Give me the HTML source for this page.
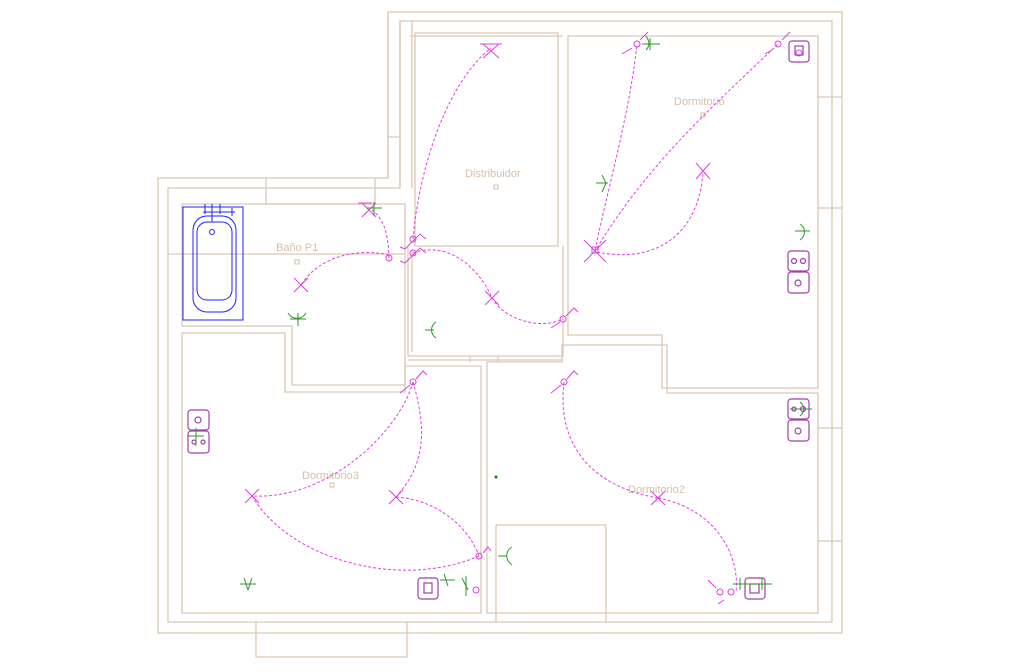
<!DOCTYPE html>
<html><head><meta charset="utf-8"><style>
html,body{margin:0;padding:0;background:#fff;width:1024px;height:672px;overflow:hidden}
svg{display:block}
.w{fill:none;stroke:#dcc8b4;stroke-width:1.3}
.m{fill:none;stroke:#e040e0;stroke-width:1}
.d{fill:none;stroke:#e040e0;stroke-width:1;stroke-dasharray:3,2}
.g{fill:none;stroke:#2a9a2a;stroke-width:1}
.p{fill:none;stroke:#a040a8;stroke-width:1.2}
.b{fill:none;stroke:#2020ff;stroke-width:1}
.t{font-family:"Liberation Sans",sans-serif;font-size:11px;fill:#d6bfa8}
</style></head><body>
<svg width="1024" height="672" viewBox="0 0 1024 672" xmlns="http://www.w3.org/2000/svg">
<!-- outer walls -->
<path class="w" d="M388 12 H842 V633 H158 V178 H388 Z"/>
<path class="w" d="M400 21 H832 V622 H168 V188 H400 Z"/>
<path class="w" d="M388 12 V178 M400 21 V188 M412 21 V188 M388 137 H400 M266 178 V188 M375 178 V204 M266 188 V204 H375"/>
<path class="w" d="M256 622 V657 H407 V622"/>
<path class="w" d="M818 97 H842 M818 208 H842 M818 428 H842 M818 541 H842"/>
<!-- Distribuidor -->
<path class="w" d="M415 33 H558 V246 H415 Z M410 36 H563"/>
<path class="w" d="M408 246 V356 H563 V246 M412 250 V352 M408 360 H563 M470 356 V362 M498 356 V362"/>
<!-- Dormitorio top right -->
<path class="w" d="M568 36 H818 V388 H662 V335 H568 Z"/>
<!-- Dormitorio2 -->
<path class="w" d="M487 362 H562 V345 H667 V393 H818 V613 H487 Z"/>
<path class="w" d="M496 525 H606 V622 M496 525 V622"/>
<!-- Bathroom -->
<path class="w" d="M182 204 H405 V385 H292 V326 H182 Z"/>
<path class="w" d="M168 254 H405"/>
<!-- Dormitorio3 -->
<path class="w" d="M182 333 H285 V392 H405 V366 H481 V613 H182 Z"/>
<!-- bathtub -->
<rect class="b" x="183" y="207" width="60" height="113"/>
<rect class="b" x="193" y="216" width="43" height="96" rx="14"/>
<rect class="b" x="197" y="222" width="35" height="78" rx="10"/>
<circle class="b" cx="212" cy="232" r="2.5"/>
<path class="b" d="M203 212 H235 M212 204 V222 M205 204 V214 M220 204 V214 M232 208 V216"/>
<!-- labels -->
<text class="t" x="465" y="177">Distribuidor</text>
<rect x="494" y="185" width="4" height="4" fill="none" stroke="#d6bfa8"/>
<text class="t" x="674" y="105">Dormitorio</text>
<rect x="701" y="113" width="4" height="4" fill="none" stroke="#d6bfa8"/>
<text class="t" x="276" y="251">Baño P1</text>
<rect x="295" y="260" width="4" height="4" fill="none" stroke="#d6bfa8"/>
<text class="t" x="302" y="479">Dormitorio3</text>
<rect x="330" y="483" width="4" height="4" fill="none" stroke="#d6bfa8"/>
<text class="t" x="628" y="493">Dormitorio2</text>
<rect x="656" y="497" width="4" height="4" fill="none" stroke="#d6bfa8"/>
<!-- magenta lights X -->
<g class="m">
<path d="M483 44 L499 58 M499 44 L483 58 M480 44 H502"/>
<path d="M362 203 L376 217 M376 203 L362 217 M358 203 H372"/>
<path d="M294 278 L308 292 M308 278 L294 292"/>
<path d="M485 291 L499 305 M499 291 L485 305"/>
<path d="M696 163 L710 179 M710 163 L696 179"/>
<path d="M584 240 L606 262 M606 240 L584 262"/><rect x="592" y="247" width="6" height="6"/>
<path d="M245 489 L259 503 M259 489 L245 503"/>
<path d="M389 490 L403 504 M403 490 L389 504"/>
<path d="M651 491 L665 505 M665 491 L651 505"/>
</g>
<!-- switches -->
<g class="m">
<circle cx="389" cy="258" r="3"/><circle cx="413" cy="239" r="3"/><circle cx="413" cy="253" r="3"/>
<path d="M405 249 L420 234 L426 239 M405 263 L420 248 L426 253 M400 247 L405 249 M400 261 L405 263"/>
<circle cx="637" cy="44" r="3"/><path d="M622 54 L632 48 M640 40 L648 32"/>
<circle cx="778" cy="44" r="3"/><path d="M765 54 L772 50 M782 40 L790 32"/>
<circle cx="563" cy="319" r="3"/><path d="M551 328 L560 322 M566 316 L574 308 L578 312"/>
<circle cx="413" cy="382" r="3"/><path d="M400 393 L410 385 M416 379 L423 371 L427 375"/>
<circle cx="564" cy="382" r="3"/><path d="M551 393 L561 385 M567 379 L574 371 L578 375"/>
<circle cx="479" cy="556" r="3"/><path d="M483 553 L488 547 L491 551"/>
<circle cx="476" cy="590" r="3"/>
<circle cx="720" cy="592" r="3"/><circle cx="731" cy="592" r="3"/><path d="M708 580 L716 588 M724 600 L718 604"/>
<circle cx="799" cy="53" r="3"/>
</g>
<!-- dashed wires -->
<g class="d">
<path d="M413 239 C420 160 450 80 491 48"/>
<path d="M389 258 C388 235 385 220 372 210"/>
<path d="M389 255 C360 248 320 255 301 285"/>
<path d="M413 253 C450 240 480 270 492 298 C505 320 540 330 563 319"/>
<path d="M595 250 C610 180 630 110 637 44"/>
<path d="M597 248 C650 160 720 100 778 44"/>
<path d="M597 252 C660 265 700 230 703 171"/>
<path d="M413 382 C400 430 330 500 252 496"/>
<path d="M413 382 C430 440 420 470 396 497"/>
<path d="M252 496 C290 560 400 590 479 556"/>
<path d="M396 497 C440 500 470 530 479 556"/>
<path d="M564 382 C555 460 610 490 658 498"/>
<path d="M658 498 C720 510 740 560 736 592"/>
</g>
<!-- sockets -->
<g class="p">
<rect x="789" y="41" width="20" height="21" rx="3"/><rect x="795" y="46" width="8" height="9"/>
<rect x="788" y="251" width="21" height="20" rx="3"/><circle cx="794" cy="261" r="2.5"/><circle cx="803" cy="261" r="2.5"/>
<rect x="788" y="272" width="21" height="21" rx="3"/><circle cx="798" cy="283" r="3"/>
<rect x="788" y="399" width="21" height="20" rx="3"/><circle cx="794" cy="409" r="2"/><circle cx="803" cy="409" r="2.5"/>
<rect x="788" y="420" width="21" height="21" rx="3"/><circle cx="798" cy="431" r="3"/>
<rect x="188" y="410" width="21" height="20" rx="3"/><circle cx="198" cy="420" r="3"/>
<rect x="188" y="431" width="21" height="22" rx="3"/><circle cx="194" cy="442" r="2"/><circle cx="203" cy="442" r="2"/>
<rect x="418" y="578" width="20" height="21" rx="3"/><rect x="424" y="583" width="8" height="10"/>
<rect x="745" y="578" width="20" height="21" rx="3"/><rect x="750" y="584" width="9" height="9"/>
</g>
<!-- green symbols -->
<g class="g">
<path d="M642 44 H660 M650 38 V50 M646 36 C650 42 650 46 646 50"/>
<path d="M795 231 H810 M800 224 C806 228 806 236 800 240"/>
<path d="M596 183 H608 M602 175 L606 183 L602 192"/>
<path d="M290 319 H306 M288 313 C292 320 302 320 306 313 M298 313 V326"/>
<path d="M425 330 H434 M436 322 C430 326 430 334 436 338"/>
<path d="M498 556 H507 M512 547 C505 551 505 560 512 565"/>
<path d="M240 584 H256 M244 578 L248 590 M252 578 L248 590"/>
<path d="M188 436 H204 M196 428 V446"/>
<path d="M440 580 H455 M444 574 L448 586"/>
<path d="M462 578 L468 590 M466 576 V596"/>
<path d="M733 584 H772 M740 578 V590 M762 578 V590"/>
<path d="M790 409 H812 M800 402 C805 406 805 412 800 416"/>
<path d="M366 208 H382 M374 202 V216"/>
</g>
<circle cx="496" cy="477" r="1.5" fill="#1a7a1a"/>
</svg>
</body></html>
